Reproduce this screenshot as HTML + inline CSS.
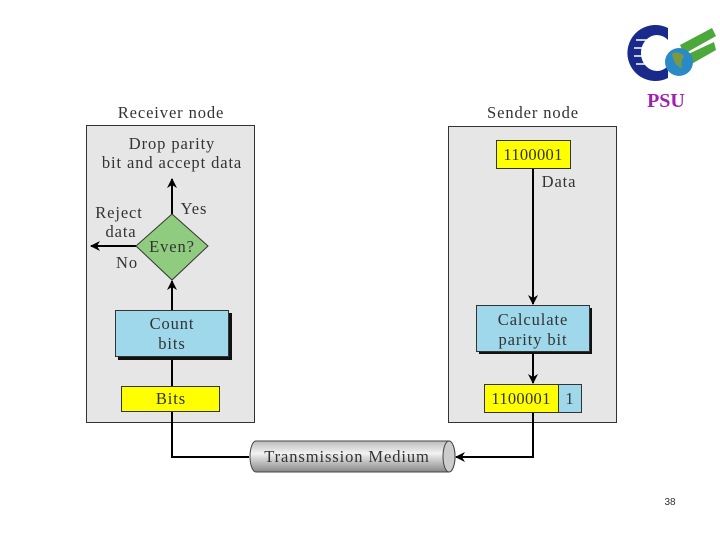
<!DOCTYPE html><html><head><style>body{margin:0;background:#fff}svg{display:block}text{font-family:"Liberation Serif",serif;font-size:16.5px;fill:#333;letter-spacing:0.9px}</style></head><body>
<svg width="720" height="540" viewBox="0 0 720 540">
<defs><marker id="a" markerWidth="10" markerHeight="10" refX="9" refY="5" orient="auto" markerUnits="userSpaceOnUse"><path d="M0,0 L10,5 L0,10 L3,5z" fill="#000"/></marker>
<linearGradient id="cyl" x1="0" y1="0" x2="0" y2="1"><stop offset="0" stop-color="#bbb"/><stop offset=".4" stop-color="#f2f2f2"/><stop offset="1" stop-color="#888"/></linearGradient></defs>
<path d="M668,28 A28,28 0 1 0 668,78 L668,66 A16,18 0 1 1 668,40Z" fill="#1a2a8a"/>
<g stroke="#fff" stroke-width="1.5"><line x1="636" y1="40" x2="665" y2="40"/><line x1="634" y1="48" x2="660" y2="48"/><line x1="634" y1="56" x2="658" y2="56"/><line x1="636" y1="64" x2="662" y2="64"/></g>
<g fill="#4ca83a"><polygon points="680,45 712,28 716,36 684,54"/><polygon points="684,56 714,42 716,50 688,66"/></g>
<circle cx="679" cy="62" r="14" fill="#2a8ac8"/><path d="M672,54 q6,-4 12,2 q-4,6 -2,12 q-8,-2 -10,-14z" fill="#7a9a40"/>
<text x="666" y="107" text-anchor="middle" style="font-size:20px;font-weight:bold;fill:#a020b0;letter-spacing:0">PSU</text>
<rect x="86.5" y="125.5" width="168" height="297" fill="#e6e6e6" stroke="#333"/>
<rect x="448.5" y="126.5" width="168" height="296" fill="#e6e6e6" stroke="#333"/>
<text x="171" y="118" text-anchor="middle">Receiver node</text>
<text x="533" y="118" text-anchor="middle">Sender node</text>
<text x="172" y="149" text-anchor="middle">Drop parity</text>
<text x="172" y="168" text-anchor="middle">bit and accept data</text>
<g stroke="#000" stroke-width="2" fill="none">
<line x1="172" y1="214" x2="172" y2="179" marker-end="url(#a)"/>
<line x1="136" y1="246" x2="91" y2="246" marker-end="url(#a)"/>
<line x1="172" y1="310" x2="172" y2="281" marker-end="url(#a)"/>
<polyline points="172,357 172,457 249,457"/>
<line x1="533" y1="168" x2="533" y2="304" marker-end="url(#a)"/>
<line x1="533" y1="351" x2="533" y2="383" marker-end="url(#a)"/>
<polyline points="533,412 533,457 456,457" marker-end="url(#a)"/>
</g>
<polygon points="172,214 208,246 172,280 136,246" fill="#8fcc80" stroke="#333"/>
<text x="172" y="252" text-anchor="middle">Even?</text>
<text x="119" y="218" text-anchor="middle">Reject</text>
<text x="121" y="237" text-anchor="middle">data</text>
<text x="127" y="268" text-anchor="middle">No</text>
<text x="194" y="214" text-anchor="middle">Yes</text>
<rect x="118" y="313" width="114" height="47" fill="#111"/>
<rect x="115.5" y="310.5" width="113" height="46" fill="#9ed8ea" stroke="#333"/>
<text x="172" y="329" text-anchor="middle">Count</text>
<text x="172" y="349" text-anchor="middle">bits</text>
<rect x="121.5" y="386.5" width="98" height="25" fill="#ffff00" stroke="#333"/>
<text x="171" y="404" text-anchor="middle">Bits</text>
<rect x="496.5" y="140.5" width="74" height="28" fill="#ffff00" stroke="#333"/>
<text x="533" y="160" text-anchor="middle" style="letter-spacing:0.3px">1100001</text>
<text x="559" y="187" text-anchor="middle">Data</text>
<rect x="479" y="308" width="113" height="46" fill="#111"/>
<rect x="476.5" y="305.5" width="113" height="46" fill="#9ed8ea" stroke="#333"/>
<text x="533" y="325" text-anchor="middle">Calculate</text>
<text x="533" y="345" text-anchor="middle">parity bit</text>
<rect x="484.5" y="384.5" width="74" height="28" fill="#ffff00" stroke="#333"/>
<rect x="558.5" y="384.5" width="23" height="28" fill="#9ed8ea" stroke="#333"/>
<text x="521" y="404" text-anchor="middle" style="letter-spacing:0.3px">1100001</text>
<text x="570" y="404" text-anchor="middle">1</text>
<path d="M256,441 L449,441 A6,15.5 0 0 1 449,472 L256,472 A6,15.5 0 0 1 256,441Z" fill="url(#cyl)" stroke="#444"/>
<ellipse cx="449" cy="456.5" rx="6" ry="15.5" fill="#ccc" stroke="#444"/>
<text x="347" y="462" text-anchor="middle">Transmission Medium</text>
<text x="670" y="505" text-anchor="middle" style="font-family:'Liberation Sans',sans-serif;font-size:10px;letter-spacing:0">38</text>
</svg></body></html>
